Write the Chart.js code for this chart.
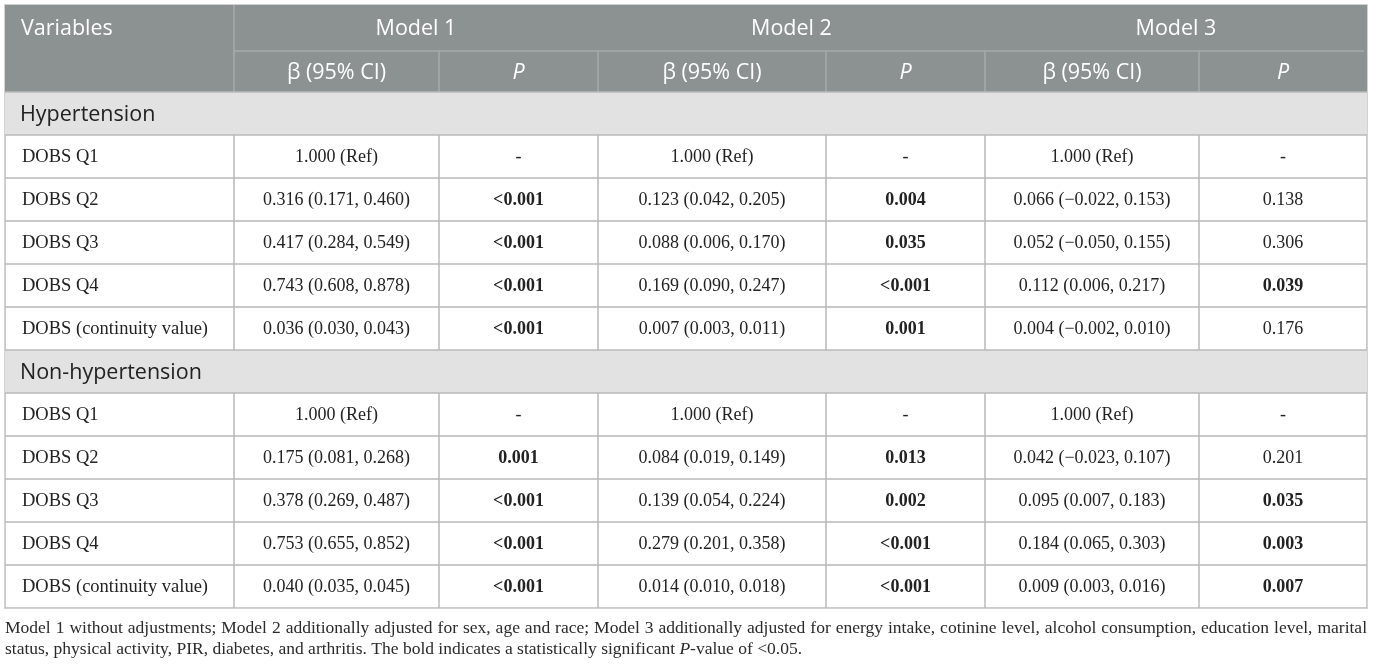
<!DOCTYPE html>
<html>
<head>
<meta charset="utf-8">
<script src="https://cdn.jsdelivr.net/npm/chart.js@4"></script>
<style>
html,body{margin:0;padding:0;background:#fff;}
#wrap{position:relative;width:1375px;height:667px;}
</style>
</head>
<body>
<div id="wrap"><canvas id="c"></canvas></div>
<script>
// ---- data ----
const models = ['Model 1', 'Model 2', 'Model 3'];
const subHeaders = ['β (95% CI)', 'P'];
const firstHeader = 'Variables';
const groups = ['Hypertension', 'Non-hypertension'];
const variables = ['DOBS Q1', 'DOBS Q2', 'DOBS Q3', 'DOBS Q4', 'DOBS (continuity value)'];

const hypM1Beta = ['1.000 (Ref)', '0.316 (0.171, 0.460)', '0.417 (0.284, 0.549)', '0.743 (0.608, 0.878)', '0.036 (0.030, 0.043)'];
const hypM1P    = ['-', '<0.001', '<0.001', '<0.001', '<0.001'];
const hypM2Beta = ['1.000 (Ref)', '0.123 (0.042, 0.205)', '0.088 (0.006, 0.170)', '0.169 (0.090, 0.247)', '0.007 (0.003, 0.011)'];
const hypM2P    = ['-', '0.004', '0.035', '<0.001', '0.001'];
const hypM3Beta = ['1.000 (Ref)', '0.066 (\u22120.022, 0.153)', '0.052 (\u22120.050, 0.155)', '0.112 (0.006, 0.217)', '0.004 (\u22120.002, 0.010)'];
const hypM3P    = ['-', '0.138', '0.306', '0.039', '0.176'];

const nonM1Beta = ['1.000 (Ref)', '0.175 (0.081, 0.268)', '0.378 (0.269, 0.487)', '0.753 (0.655, 0.852)', '0.040 (0.035, 0.045)'];
const nonM1P    = ['-', '0.001', '<0.001', '<0.001', '<0.001'];
const nonM2Beta = ['1.000 (Ref)', '0.084 (0.019, 0.149)', '0.139 (0.054, 0.224)', '0.279 (0.201, 0.358)', '0.014 (0.010, 0.018)'];
const nonM2P    = ['-', '0.013', '0.002', '<0.001', '<0.001'];
const nonM3Beta = ['1.000 (Ref)', '0.042 (\u22120.023, 0.107)', '0.095 (0.007, 0.183)', '0.184 (0.065, 0.303)', '0.009 (0.003, 0.016)'];
const nonM3P    = ['-', '0.201', '0.035', '0.003', '0.007'];

const footnoteLines = [
  'Model 1 without adjustments; Model 2 additionally adjusted for sex, age and race; Model 3 additionally adjusted for energy intake, cotinine level, alcohol consumption, education level, marital',
  'status, physical activity, PIR, diabetes, and arthritis. The bold indicates a statistically significant |P|-value of <0.05.'
];

// ---- layout (in scale units) ----
const COLS = [5, 234, 439, 598, 826, 985, 1199, 1367];
const HEAD1 = [5, 51];
const HEAD2 = [51, 92];
const ROW_H = 43;
const BODY_TOP = 92;
const FOOT_Y = [628, 649];

const tableData = [
  {group: groups[0], cols: [hypM1Beta, hypM1P, hypM2Beta, hypM2P, hypM3Beta, hypM3P]},
  {group: groups[1], cols: [nonM1Beta, nonM1P, nonM2Beta, nonM2P, nonM3Beta, nonM3P]}
];

const SANS = '"Open Sans", Lato, sans-serif';
const SERIF = '"Liberation Serif", "DejaVu Serif", serif';

function isSig(p) {
  if (p.startsWith('<')) return true;
  const v = parseFloat(p);
  return !isNaN(v) && v < 0.05;
}

const tablePlugin = {
  id: 'tablePlugin',
  afterDraw(chart) {
    const ctx = chart.ctx;
    const xs = chart.scales.x, ys = chart.scales.y;
    const X = v => xs.getPixelForValue(v);
    const Y = v => ys.getPixelForValue(v);
    const left = X(COLS[0]), right = X(COLS[COLS.length - 1]);
    ctx.save();

    // header background
    ctx.fillStyle = '#8c9192';
    ctx.fillRect(left, Y(HEAD1[0]), right - left, Y(HEAD2[1]) - Y(HEAD1[0]));

    // header lines
    ctx.strokeStyle = '#a6aaab';
    ctx.lineWidth = 1.5;
    ctx.beginPath();
    ctx.moveTo(X(COLS[1]), Y(HEAD1[1])); ctx.lineTo(right - 3, Y(HEAD1[1]));
    ctx.moveTo(X(COLS[1]), Y(HEAD1[0])); ctx.lineTo(X(COLS[1]), Y(HEAD2[1]));
    for (let i = 2; i < COLS.length - 1; i++) {
      ctx.moveTo(X(COLS[i]), Y(HEAD2[0])); ctx.lineTo(X(COLS[i]), Y(HEAD2[1]));
    }
    ctx.stroke();

    // header text
    const HF = '21.5px ' + SANS;
    ctx.fillStyle = '#ffffff';
    ctx.textBaseline = 'middle';
    ctx.font = HF;
    ctx.textAlign = 'left';
    ctx.fillText(firstHeader, X(21), Y((HEAD1[0] + HEAD1[1]) / 2 + 1));
    ctx.textAlign = 'center';
    for (let m = 0; m < models.length; m++) {
      const cx = (X(COLS[1 + 2 * m]) + X(COLS[3 + 2 * m])) / 2;
      ctx.font = HF;
      ctx.fillText(models[m], cx, Y((HEAD1[0] + HEAD1[1]) / 2 + 1));
      const c1 = (X(COLS[1 + 2 * m]) + X(COLS[2 + 2 * m])) / 2;
      const c2 = (X(COLS[2 + 2 * m]) + X(COLS[3 + 2 * m])) / 2;
      ctx.fillText(subHeaders[0], c1, Y((HEAD2[0] + HEAD2[1]) / 2 + 1));
      ctx.font = 'italic ' + HF;
      ctx.fillText(subHeaders[1], c2, Y((HEAD2[0] + HEAD2[1]) / 2 + 1));
    }

    // body
    let y = BODY_TOP;
    const hLines = [];
    const vSegs = [];
    tableData.forEach(g => {
      ctx.fillStyle = '#e1e2e1';
      ctx.fillRect(left, Y(y), right - left, Y(y + ROW_H) - Y(y));
      ctx.fillStyle = '#222222';
      ctx.textAlign = 'left';
      ctx.font = HF;
      ctx.fillText(g.group, X(20), Y(y + ROW_H / 2 + 1));
      hLines.push(y);
      y += ROW_H;
      hLines.push(y);
      const segTop = y;
      variables.forEach((v, r) => {
        ctx.fillStyle = '#222222';
        ctx.textAlign = 'left';
        ctx.font = '18.5px ' + SERIF;
        ctx.fillText(v, X(22), Y(y + ROW_H / 2 + 1));
        ctx.textAlign = 'center';
        g.cols.forEach((col, c) => {
          const txt = col[r];
          const cx = (X(COLS[c + 1]) + X(COLS[c + 2])) / 2;
          const bold = (c % 2 === 1) && isSig(txt);
          ctx.font = (bold ? 'bold ' : '') + '18px ' + SERIF;
          ctx.fillText(txt, cx, Y(y + ROW_H / 2 + 1));
        });
        y += ROW_H;
        hLines.push(y);
      });
      vSegs.push([segTop, y]);
    });

    ctx.strokeStyle = '#b9b9b9';
    ctx.lineWidth = 1.5;
    ctx.beginPath();
    hLines.forEach(h => { ctx.moveTo(left, Y(h)); ctx.lineTo(right, Y(h)); });
    vSegs.forEach(s => {
      for (let i = 0; i < COLS.length; i++) {
        ctx.moveTo(X(COLS[i]), Y(s[0])); ctx.lineTo(X(COLS[i]), Y(s[1]));
      }
    });
    ctx.stroke();

    // outer border
    ctx.strokeStyle = '#d2d2d2';
    ctx.lineWidth = 1;
    ctx.strokeRect(left - 0.5, Y(HEAD1[0]) - 0.5, right - left + 1, Y(y) - Y(HEAD1[0]) + 1);

    // footnote (first line justified)
    ctx.fillStyle = '#2a2a2a';
    ctx.textAlign = 'left';
    const fsize = 17.5;
    const normal = fsize + 'px ' + SERIF;
    const ital = 'italic ' + fsize + 'px ' + SERIF;
    footnoteLines.forEach((line, i) => {
      const yy = Y(FOOT_Y[i]);
      if (i === 0) {
        ctx.font = normal;
        const words = line.split(' ');
        const wsum = words.reduce((a, w) => a + ctx.measureText(w).width, 0);
        const target = X(1367) - X(5);
        const nat = ctx.measureText(line).width;
        if (nat > target) {
          ctx.save();
          ctx.translate(X(5), yy);
          ctx.scale(target / nat, 1);
          ctx.fillText(line, 0, 0);
          ctx.restore();
        } else {
          const gap = (target - wsum) / (words.length - 1);
          let xx = X(5);
          words.forEach(w => { ctx.fillText(w, xx, yy); xx += ctx.measureText(w).width + gap; });
        }
      } else {
        const parts = line.split('|');
        let xx = X(5);
        parts.forEach((p, k) => {
          ctx.font = k === 1 ? ital : normal;
          ctx.fillText(p, xx, yy);
          xx += ctx.measureText(p).width;
        });
      }
    });

    ctx.restore();
  }
};

new Chart(document.getElementById('c'), {
  type: 'scatter',
  data: {datasets: []},
  options: {
    responsive: true,
    maintainAspectRatio: false,
    animation: false,
    layout: {padding: 0},
    plugins: {legend: {display: false}, tooltip: {enabled: false}},
    scales: {
      x: {type: 'linear', min: 0, max: 1375, display: false},
      y: {type: 'linear', min: 0, max: 667, reverse: true, display: false}
    }
  },
  plugins: [tablePlugin]
});
</script>
</body>
</html>
